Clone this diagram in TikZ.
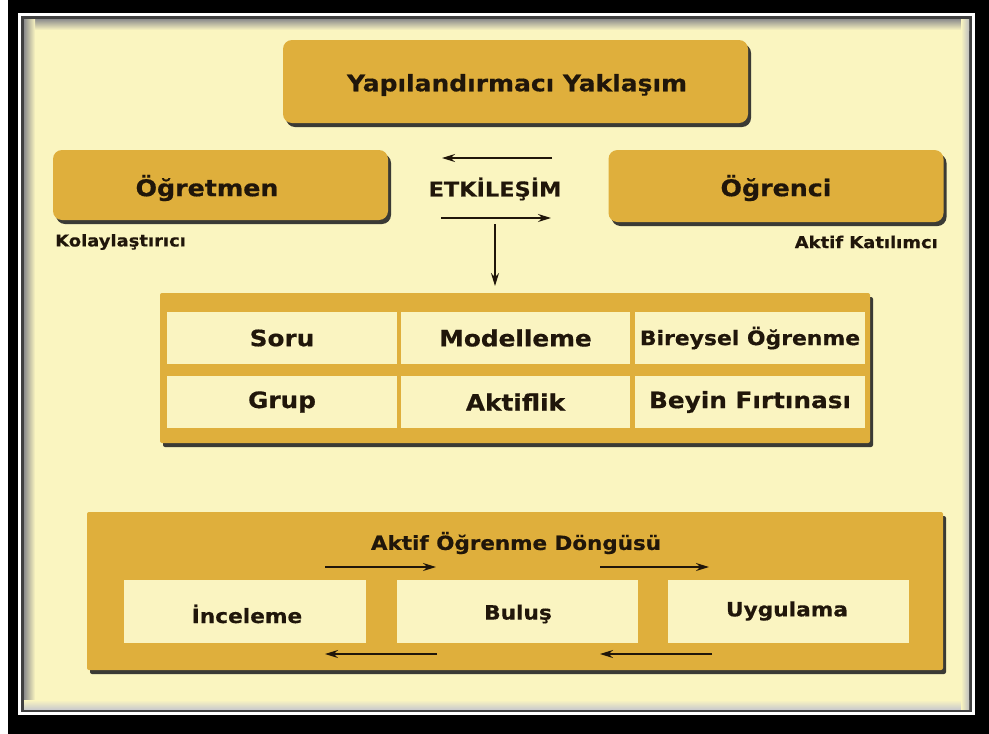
\documentclass[tikz,border=0pt]{standalone}
\usepackage{fontspec}
\setmainfont{DejaVu Sans}[FakeStretch=1.1, BoldFeatures={FakeBold=0.5}]
\usetikzlibrary{shadows,arrows.meta}
\definecolor{cream}{RGB}{250,245,192}
\definecolor{gold}{RGB}{223,175,60}
\definecolor{cellfill}{RGB}{250,244,193}
\definecolor{ink}{RGB}{32,22,10}
\newcommand{\fsz}[1]{\fontsize{#1}{#1}\selectfont\bfseries}
\begin{document}
\begin{tikzpicture}[x=1pt,y=-1pt,
  every node/.style={inner sep=0pt, text=ink, font=\bfseries},
  goldbox/.style={fill=gold, rounded corners=9pt,
    drop shadow={shadow xshift=3pt, shadow yshift=-4pt, fill=black!85, opacity=0.9}},
  panel/.style={fill=gold, rounded corners=2pt,
    drop shadow={shadow xshift=3pt, shadow yshift=-4pt, fill=black!85, opacity=0.9}},
  cellbox/.style={fill=cellfill},
  arr/.style={-{Stealth[length=13pt,width=8pt]}, line width=1.5pt, draw=ink},
  big/.style={font=\fsz{23}},
  mid/.style={font=\fsz{22.5}},
  low/.style={font=\fsz{19.7}},
  small/.style={font=\fsz{16.3}}]

% page and frame
\useasboundingbox (0,0) rectangle (989,734);
\fill[white] (0,0) rectangle (989,734);
\fill[black] (8,0) rectangle (989,734);
\fill[white] (18,13) rectangle (975,715);
\fill[black!75] (21,16) rectangle (972,712);
\fill[cream] (24,19) rectangle (969,709);
\shade[top color=black!45, bottom color=cream] (24,19) rectangle (969,30);
\shade[left color=black!45, right color=cream] (24,19) rectangle (35,709);
\shade[top color=cream, bottom color=black!20] (24,700) rectangle (969,709);
\shade[left color=cream, right color=black!25] (961,19) rectangle (969,709);

% top row
\node[goldbox, minimum width=465pt, minimum height=83pt] (title) at (515.5,81.5) {};
\node[font=\fsz{22.7}] (titletext) at (517,85) {Yapılandırmacı Yaklaşım};

\node[goldbox, minimum width=335pt, minimum height=70pt] (teacher) at (220.5,185) {};
\node[big] (teachertext) at (207,188) {Öğretmen};
\node[small, anchor=west] (teacherrole) at (55,242) {Kolaylaştırıcı};

\node[goldbox, minimum width=335pt, minimum height=72pt] (student) at (776,186) {};
\node[big] (studenttext) at (776,188) {Öğrenci};
\node[small, anchor=east] (studentrole) at (938,242) {Aktif Katılımcı};

\node[font=\fsz{20.4}] (etk) at (495,189) {ETKİLEŞİM};
\coordinate (la) at (552,158);
\coordinate (lb) at (442,158);
\coordinate (ra) at (441,218);
\coordinate (rb) at (551,218);
\coordinate (da) at (495,224);
\coordinate (db) at (495,286);
\draw[arr] (la) -- (lb);
\draw[arr] (ra) -- (rb);
\draw[arr] (da) -- (db);

% method grid
\node[panel, minimum width=710pt, minimum height=150pt] (grid) at (515,368) {};
\node[cellbox, minimum width=230pt, minimum height=52pt, mid] (c11) at (282,338) {Soru};
\node[cellbox, minimum width=229pt, minimum height=52pt, mid] (c12) at (515.5,338) {Modelleme};
\node[cellbox, minimum width=230pt, minimum height=52pt, font=\fsz{19.9}] (c13) at (750,338) {Bireysel Öğrenme};
\node[cellbox, minimum width=230pt, minimum height=52pt, mid] (c21) at (282,402) {Grup};
\node[cellbox, minimum width=229pt, minimum height=52pt, mid] (c22) at (515.5,402) {Aktiflik};
\node[cellbox, minimum width=230pt, minimum height=52pt, mid] (c23) at (750,402) {Beyin Fırtınası};

% learning cycle
\node[panel, minimum width=856pt, minimum height=158pt] (cycle) at (515,591) {};
\node[font=\fsz{19.5}] (cycletitle) at (516,543) {Aktif Öğrenme Döngüsü};
\node[cellbox, minimum width=242pt, minimum height=63pt] (s1) at (245,611.5) {};
\node[cellbox, minimum width=241pt, minimum height=63pt] (s2) at (517.5,611.5) {};
\node[cellbox, minimum width=241pt, minimum height=63pt] (s3) at (788.5,611.5) {};
\node[low] (s1text) at (247,614) {İnceleme};
\node[low] (s2text) at (518,614) {Buluş};
\node[low] (s3text) at (787,611) {Uygulama};

\coordinate (p1) at (325,567);
\coordinate (p2) at (436,567);
\coordinate (p3) at (600,567);
\coordinate (p4) at (709,567);
\coordinate (q1) at (437,654);
\coordinate (q2) at (325,654);
\coordinate (q3) at (712,654);
\coordinate (q4) at (600,654);
\draw[arr] (p1) -- (p2);
\draw[arr] (p3) -- (p4);
\draw[arr] (q1) -- (q2);
\draw[arr] (q3) -- (q4);
\end{tikzpicture}
\end{document}
